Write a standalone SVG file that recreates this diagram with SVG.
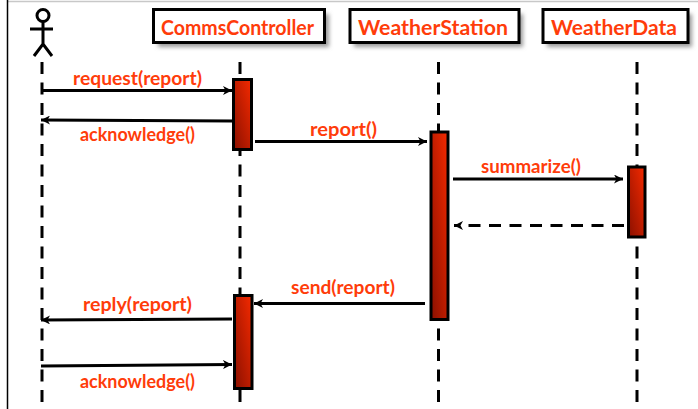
<svg xmlns="http://www.w3.org/2000/svg" width="698" height="409" viewBox="0 0 698 409">
<style>
.t{font-family:"Lato","Noto Sans",sans-serif;font-weight:700;fill:#ff3c0a;text-anchor:start}
.n{font-size:21px}.m{font-size:18px}
.box{fill:#fff;stroke:#000;stroke-width:3}
.life{stroke:#000;stroke-width:3;stroke-dasharray:12 8.5;fill:none}
.act{fill:url(#g);stroke:#000;stroke-width:3}
.c{stroke:#000;stroke-width:3;fill:none;marker-end:url(#a)}
.s{fill:none;stroke:#000;stroke-width:3}
</style>
<defs>
<linearGradient id="g" x1="1" y1="0" x2="0" y2="1"><stop offset="0" stop-color="#f52a00"/><stop offset="1" stop-color="#8a1000"/></linearGradient>
<filter id="sh" x="-10%" y="-30%" width="125%" height="170%"><feGaussianBlur stdDeviation="2.2"/></filter>
<marker id="a" viewBox="0 0 10 9" refX="9" refY="4.500" markerWidth="10" markerHeight="9" markerUnits="userSpaceOnUse" orient="auto"><path d="M0 0L9 4.500L0 9L2.500 4.500Z" fill="#000"/></marker>
</defs>
<rect width="698" height="409" fill="#fff"/>
<path d="M7.500 1.500H698" fill="none" stroke="#c8c8c8" stroke-width="1.500"/>
<path d="M7.500 0V409" fill="none" stroke="#000" stroke-width="1.500"/>
<g id="lifelines">
<path class="life" d="M42 62V404"/><path class="life" d="M240 62V404"/><path class="life" d="M438.500 62V404"/><path class="life" d="M637 62V404"/>
</g>
<g id="actor"><circle class="s" cx="43" cy="15.500" r="6"/><path class="s" d="M43 22V44M30 29H53M34 56L43 44L52 56"/></g>
<g id="comms"><rect x="158" y="14" width="171" height="33" fill="#999" filter="url(#sh)"/><rect class="box" x="153.500" y="9.500" width="171" height="33"/><text class="t n" x="161" y="34.500" textLength="153" lengthAdjust="spacingAndGlyphs">CommsController</text></g>
<g id="station"><rect x="354" y="14" width="169" height="33" fill="#999" filter="url(#sh)"/><rect class="box" x="350" y="9.500" width="169" height="33"/><text class="t n" x="358" y="34.500" textLength="150" lengthAdjust="spacingAndGlyphs">WeatherStation</text></g>
<g id="data"><rect x="547" y="14" width="145" height="33" fill="#999" filter="url(#sh)"/><rect class="box" x="543" y="9.500" width="145" height="33"/><text class="t n" x="551" y="34.500" textLength="126" lengthAdjust="spacingAndGlyphs">WeatherData</text></g>
<g id="act1"><rect class="act" x="233.500" y="79.500" width="18" height="70"/></g>
<g id="act2"><rect class="act" x="431" y="132" width="17" height="187.500"/></g>
<g id="act3"><rect class="act" x="628.500" y="167" width="16.500" height="70"/></g>
<g id="act4"><rect class="act" x="234.500" y="295.500" width="17.500" height="93"/></g>
<g id="connectors">
<path class="c" d="M42 90.500H232"/><path class="c" d="M233 121L41 120"/><path class="c" d="M255 141.500H427"/><path class="c" d="M453 179H623"/>
<path class="c" style="stroke-dasharray:12 8.500" d="M624 225.500H454"/>
<path class="c" d="M425 303.500H254"/><path class="c" d="M232 319L41 320"/><path class="c" d="M41 366L232 364.500"/>
</g>
<g id="labels">
<text class="t m" x="73" y="85" textLength="129" lengthAdjust="spacingAndGlyphs">request(report)</text>
<text class="t m" x="80" y="141" textLength="115" lengthAdjust="spacingAndGlyphs">acknowledge()</text>
<text class="t m" x="310" y="136" textLength="67" lengthAdjust="spacingAndGlyphs">report()</text>
<text class="t m" x="481" y="173" textLength="100" lengthAdjust="spacingAndGlyphs">summarize()</text>
<text class="t m" x="291" y="294" textLength="104" lengthAdjust="spacingAndGlyphs">send(report)</text>
<text class="t m" x="83" y="311" textLength="109" lengthAdjust="spacingAndGlyphs">reply(report)</text>
<text class="t m" x="80" y="388" textLength="115" lengthAdjust="spacingAndGlyphs">acknowledge()</text>
</g>
</svg>
